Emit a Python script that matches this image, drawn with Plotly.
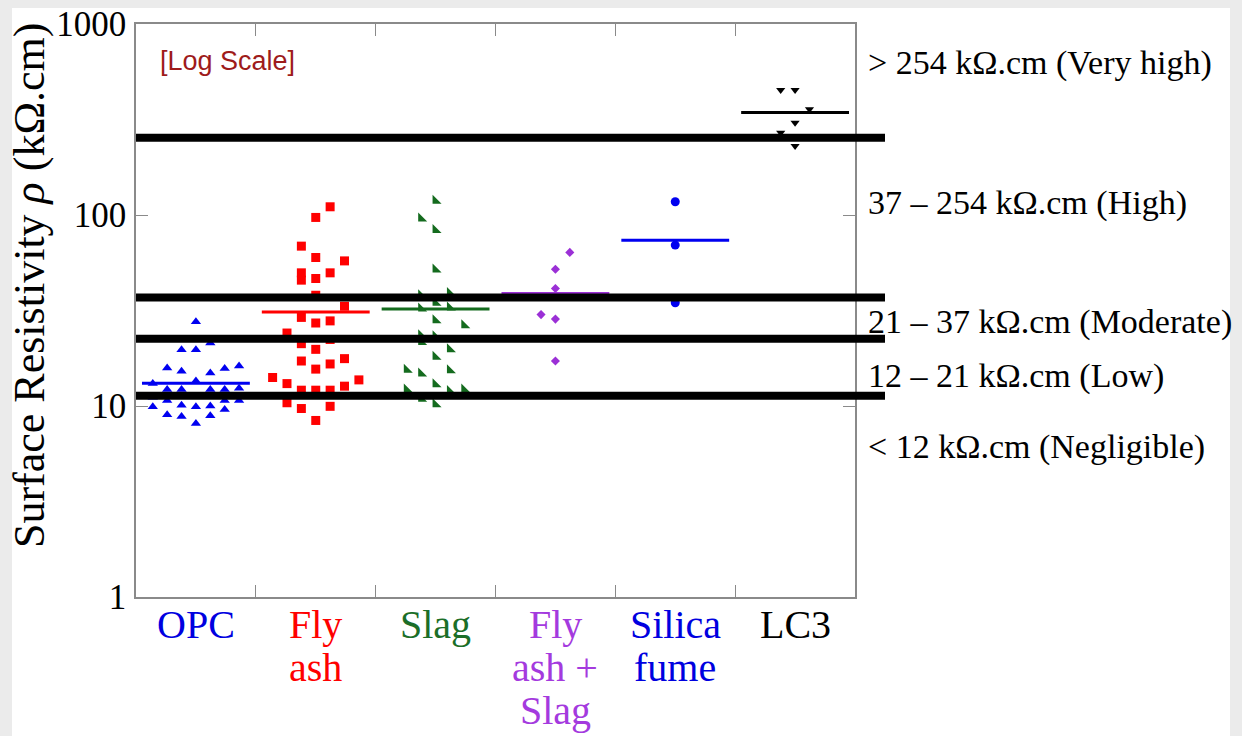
import numpy as np
import plotly.graph_objects as go

# ---------------- data ----------------
categories = ["OPC", "Fly ash", "Slag", "Fly ash + Slag", "Silica fume", "LC3"]
category_label_lines = [["OPC"], ["Fly", "ash"], ["Slag"], ["Fly", "ash +", "Slag"],
                        ["Silica", "fume"], ["LC3"]]

opc_values = [27.6, 21.4, 19.7, 19.7, 16.2, 15.8, 15.7, 15.2, 14.9, 13.5, 13.1, 12.4,
              12.2, 12.2, 12.2, 12.2, 11.1, 10.7, 10.7, 10.7, 10.1, 9.9, 9.9, 10.0,
              9.6, 9.0, 8.9, 8.8, 8.1]
opc_slots = [0, 1, -1, 0, 3, -2, 2, -1, 1, 0, -3, 3,
             -2, -1, 1, 2, -3, -2, 2, 3, -1, -3, 0, 1,
             2, -2, 1, -1, 0]

flyash_values = [110.4, 97.1, 68.7, 59.9, 57.5, 49.8, 45.6, 46.5, 49.8, 38.0, 33.3,
                 29.1, 27.2, 27.9, 24.1, 21.2, 22.3, 19.8, 17.2, 17.7, 15.6, 16.6,
                 14.1, 13.1, 12.1, 12.1, 12.1, 12.7, 13.7, 10.4, 9.7, 9.96, 8.4]
flyash_slots = [1, 0, -1, 0, 2, -1, -1, 0, 1, 0, 2,
                -1, 0, 1, -2, -1, 1, 0, -1, 2, 0, 1,
                -3, -2, -1, 0, 1, 2, 3, -2, -1, 1, 0]

slag_values = [118.7, 96.0, 83.4, 51.9, 38.0, 39.1, 34.7, 32.4, 32.8, 28.1, 26.5,
               23.5, 21.6, 23.2, 19.8, 18.1, 15.5, 14.8, 15.4, 13.0, 12.2, 12.0,
               12.2, 10.9, 10.2]
slag_slots = [0, -1, 0, 0, -1, 1, 0, -1, 1, 0, 2,
              -1, -1, 0, 1, 0, -2, -1, 1, 0, -2, 1,
              2, -1, 0]

fa_slag_values = [63.7, 52.0, 41.2, 30.1, 28.5, 17.2]
fa_slag_slots = [1, 0, 0, -1, 0, 0]

silica_values = [117.3, 69.6, 34.7]
silica_slots = [0, 0, 0]

lc3_values = [451.6, 451.6, 357.5, 304.1, 269.8, 229.7]
lc3_slots = [-1, 0, 1, 0, -1, 0]

threshold_values = [11.3, 22.5, 37.0, 254.0]
class_labels = ["> 254 kΩ.cm (Very high)", "37 – 254 kΩ.cm (High)",
                "21 – 37 kΩ.cm (Moderate)", "12 – 21 kΩ.cm (Low)",
                "< 12 kΩ.cm (Negligible)"]
y_tick_values = [1, 10, 100, 1000]
y_tick_labels = ["1", "10", "100", "1000"]

# ---------------- styles ----------------
groups = [
    (opc_values, opc_slots, "triangle-up", 9, "#0000f0", "#0000e0"),
    (flyash_values, flyash_slots, "square", 9, "#ff0000", "#ff0000"),
    (slag_values, slag_slots, "triangle-sw", 10, "#146b1e", "#1b6e28"),
    (fa_slag_values, fa_slag_slots, "diamond", 7, "#9b30d6", "#a43ade"),
    (silica_values, silica_slots, "circle", 9, "#0000f0", "#0000e0"),
    (lc3_values, lc3_slots, "triangle-down", 8, "#000000", "#000000"),
]
SLOT_W = 0.12
HALF_MEAN = 0.45
SERIF = "Liberation Serif, Times New Roman, serif"

W, H = 1242, 736
L, R, T, B = 136, 855, 24, 597
PW, PH = R - L, B - T


def px(xpix):
    return (xpix - L) / PW


def py(ypix):
    return (B - ypix) / PH


fig = go.Figure()

for i, (vals, slots, sym, size, mcol, lcol) in enumerate(groups):
    m = float(np.mean(vals))
    fig.add_trace(go.Scatter(
        x=[i - HALF_MEAN, i + HALF_MEAN], y=[m, m], mode="lines",
        line=dict(color=mcol, width=3), hoverinfo="skip", showlegend=False))
    xs = [i + s * SLOT_W for s in slots]
    fig.add_trace(go.Scatter(
        x=xs, y=vals, mode="markers", name=categories[i],
        marker=dict(symbol=sym, size=size, color=mcol, line=dict(width=0)),
        showlegend=False))

shapes = [
    dict(type="rect", xref="paper", yref="paper", x0=px(12), x1=px(1230),
         y0=py(760), y1=py(8), fillcolor="white", line=dict(width=0), layer="below"),
]
for v in threshold_values:
    shapes.append(dict(type="line", xref="paper", yref="y", x0=0, x1=px(885),
                       y0=v, y1=v,
                       line=dict(color="black", width=8), layer="above"))

annotations = []
# category labels
line_centers = [624, 667, 710]
for i, lines in enumerate(category_label_lines):
    for k, txt in enumerate(lines):
        annotations.append(dict(
            x=i, xref="x", y=py(line_centers[k]), yref="paper", text=txt,
            showarrow=False, xanchor="center", yanchor="middle",
            font=dict(family=SERIF, size=40, color=groups[i][5])))
# class labels on the right
label_centers = [63, 203, 322, 376, 447]
for txt, yc in zip(class_labels, label_centers):
    annotations.append(dict(
        x=px(866), xref="paper", y=py(yc), yref="paper", text=txt,
        showarrow=False, xanchor="left", yanchor="middle",
        font=dict(family=SERIF, size=34, color="black")))
# log scale note
annotations.append(dict(
    x=px(158), xref="paper", y=py(61), yref="paper", text="[Log Scale]",
    showarrow=False, xanchor="left", yanchor="middle",
    font=dict(family="Liberation Sans, Arial, sans-serif", size=27, color="#9e1b1b")))
# y title
annotations.append(dict(
    x=px(29), xref="paper", y=py(285), yref="paper",
    text="Surface Resistivity <i>ρ</i> (kΩ.cm)", textangle=-90,
    showarrow=False, xanchor="center", yanchor="middle",
    font=dict(family=SERIF, size=44, color="black")))

fig.update_layout(
    template="none",
    width=W, height=H,
    margin=dict(l=L, r=W - R, t=T, b=H - B, autoexpand=False),
    paper_bgcolor="#ebebeb", plot_bgcolor="white",
    shapes=shapes, annotations=annotations, showlegend=False,
    xaxis=dict(range=[-0.5, 5.5], tickvals=[0.5, 1.5, 2.5, 3.5, 4.5],
               showticklabels=False, ticks="inside", ticklen=12, tickwidth=1,
               tickcolor="#8a8a8a", showline=True, linecolor="#8a8a8a", linewidth=1.5,
               mirror="ticks", showgrid=False, zeroline=False, fixedrange=True,
               automargin=False),
    yaxis=dict(type="log", range=[0, 3], tickvals=y_tick_values, ticktext=y_tick_labels,
               ticks="inside", ticklen=12, tickwidth=1, tickcolor="#8a8a8a",
               showline=True, linecolor="#8a8a8a", linewidth=1.5, mirror="ticks",
               showgrid=False, zeroline=False, ticklabelstandoff=1, automargin=False,
               tickfont=dict(family=SERIF, size=35, color="black"), fixedrange=True),
)

fig.write_html("out.html", config={"displayModeBar": False},
               post_script="document.body.style.margin='0';document.body.style.overflow='hidden';")
